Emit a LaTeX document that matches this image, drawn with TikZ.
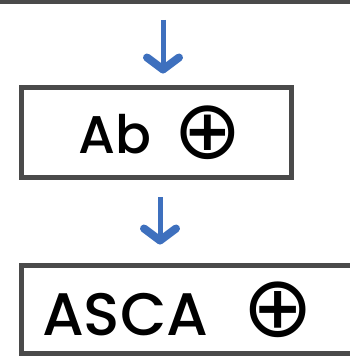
\documentclass[tikz,border=0pt]{standalone}
\usepackage{fontspec}
\setmainfont{Poppins}[BoldFont={* Medium}]
\newfontfamily\symfont{DejaVu Sans}
\usepackage{tikz}
\usetikzlibrary{positioning,arrows.meta}
\definecolor{boxgray}{RGB}{74,74,74}
\definecolor{flowblue}{RGB}{62,112,190}

\begin{document}
\begin{tikzpicture}[
  x=1pt, y=1pt,
  stage/.style={rectangle, draw=boxgray, line width=5pt, fill=white, inner sep=0pt, font=\bfseries},
  flow/.style={-{Straight Barb[length=12pt, width=32pt, line width=0pt 1.6, round]}, line width=5pt, draw=flowblue}
]
\useasboundingbox (0,0) rectangle (349,357);

% previous stage, only its lower edge shows
\node[stage, minimum width=420pt, minimum height=60pt] (prev) at (156,385.5) {};

% first stage
\node[stage, minimum width=270pt, minimum height=90pt] (ab) at (156,224)
  {\hspace*{8pt}\fontsize{53}{53}\selectfont Ab\hspace{22pt}\raisebox{-5pt}{\symfont\mdseries\fontsize{82}{82}\selectfont ⊕}};

% second stage, runs off the right edge
\node[stage, minimum width=339pt, minimum height=88pt, text width=297pt, inner xsep=21pt, align=left]
  (asca) at (190.5,47)
  {\fontsize{60}{60}\selectfont ASCA\hspace{34pt}\raisebox{-1pt}{\symfont\mdseries\fontsize{85}{85}\selectfont ⊕}};

% flow arrows
\draw[flow, shorten <=16pt, shorten >=12pt] ([xshift=7pt]prev.south) -- ([xshift=7pt]ab.north);
\draw[flow, shorten <=17pt, shorten >=19pt] ([xshift=4pt]ab.south) -- ([xshift=4pt]ab.south |- asca.north);
\end{tikzpicture}
\end{document}
